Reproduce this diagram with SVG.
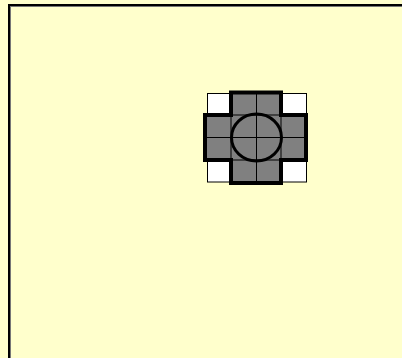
<svg xmlns="http://www.w3.org/2000/svg" width="402" height="358" viewBox="0 0 402 358">
<style>
.cell{fill:#ffffff;stroke:#000;stroke-width:1}
.grid{stroke:#000;stroke-width:1;fill:none}
.outline{fill:none;stroke:#000;stroke-width:4;stroke-linejoin:miter}
</style>
<rect x="0" y="0" width="402" height="358" fill="#ffffcc"/>
<g id="frame">
<rect x="10.5" y="6.5" width="400" height="360" fill="none" stroke="#777" stroke-width="1"/>
<rect x="9" y="5" width="400" height="360" fill="none" stroke="#000" stroke-width="2"/>
</g>
<g id="corners">
<rect class="cell" x="207.5" y="93.5" width="23" height="21"/>
<rect class="cell" x="282.5" y="93.5" width="24" height="21"/>
<rect class="cell" x="207.5" y="160.5" width="23" height="21.5"/>
<rect class="cell" x="282.5" y="160.5" width="24" height="21.5"/>
</g>
<g id="cross">
<path d="M231 92.5 H281 V115 H306 V160 H281 V183 H231 V160 H205 V115 H231 Z" fill="#808080"/>
<g class="grid">
<line x1="256.5" y1="92.5" x2="256.5" y2="183"/>
<line x1="205" y1="137.5" x2="306" y2="137.5"/>
<line x1="231" y1="115" x2="231" y2="160"/>
<line x1="281" y1="115" x2="281" y2="160"/>
<line x1="231" y1="115" x2="281" y2="115"/>
<line x1="231" y1="160" x2="281" y2="160"/>
</g>
<ellipse cx="256.5" cy="137.5" rx="25" ry="23.5" fill="none" stroke="#000" stroke-width="3"/>
<path class="outline" d="M231 92.5 H281 V115 H306 V160 H281 V183 H231 V160 H205 V115 H231 Z"/>
</g>
</svg>
